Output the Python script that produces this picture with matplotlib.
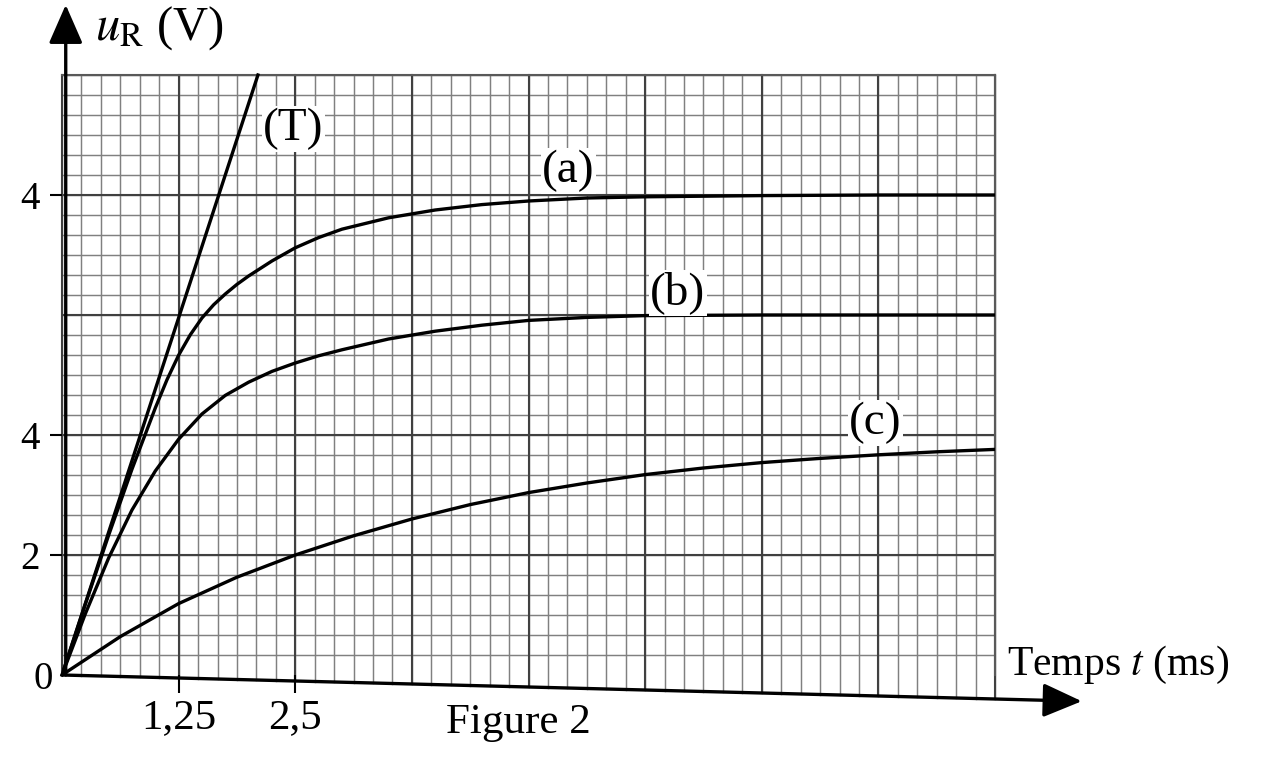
import numpy as np
import matplotlib
matplotlib.use("Agg")
import matplotlib.pyplot as plt

plt.rcParams['font.family'] = ['Liberation Serif', 'DejaVu Serif']
plt.rcParams['mathtext.fontset'] = 'stix'

# valeurs
t_a = [0, 0.25, 0.5, 0.75, 1.0, 1.125, 1.25, 1.375, 1.5, 1.625, 1.75, 1.875,
       2.0, 2.25, 2.5, 2.75, 3.0, 3.5, 4.0, 4.5, 5.0, 5.625, 6.25, 7.5, 8.75, 10]
u_a = [0, 1.18, 2.33, 3.43, 4.45, 4.92, 5.33, 5.67, 5.95, 6.17, 6.35, 6.51,
       6.65, 6.9, 7.12, 7.29, 7.43, 7.62, 7.75, 7.84, 7.9, 7.95, 7.97, 7.99, 8.0, 8.0]

t_b = [0, 0.25, 0.5, 0.75, 1.0, 1.25, 1.5, 1.75, 2.0, 2.25, 2.5, 2.75, 3.0,
       3.5, 4.0, 4.5, 5.0, 5.625, 6.25, 7.5, 8.75, 10]
u_b = [0, 1.02, 1.95, 2.75, 3.4, 3.93, 4.35, 4.66, 4.88, 5.06, 5.2, 5.32, 5.42,
       5.6, 5.73, 5.83, 5.91, 5.96, 5.99, 6.0, 6.0, 6.0]

t_c = [0, 0.625, 1.25, 1.875, 2.5, 3.125, 3.75, 4.375, 5.0, 5.625, 6.25,
       6.875, 7.5, 8.125, 8.75, 9.375, 10]
u_c = [0, 0.64, 1.19, 1.63, 2.0, 2.32, 2.6, 2.84, 3.04, 3.2, 3.34,
       3.45, 3.54, 3.61, 3.67, 3.72, 3.76]

# tangente (T)
t_T = [0, 2.1]
u_T = [0, 10]

x_ticks = [1.25, 2.5]
x_labels = ['1,25', '2,5']
y_ticks = [2, 4, 8]
y_labels = ['2', '4', '4']

# l'axe du temps est legerement incline sur le scan
pente = -0.04

fig = plt.figure(figsize=(12.72, 7.68), dpi=100)
ax = fig.add_axes([62 / 1272, 1 - 675 / 768, 933 / 1272, 600 / 768])
ax.set_xlim(0, 10)
ax.set_ylim(0, 10)

# papier millimetre
xs = np.arange(0, 10.01, 1.25 / 6)
for x in xs:
    ax.plot([x, x], [pente * x, 10], color='0.5', lw=1.05, zorder=1, clip_on=False)
for y in np.arange(1 / 3, 10.01, 1 / 3):
    ax.axhline(y, color='0.5', lw=1.05, zorder=1)
for x in np.arange(0, 10.01, 1.25):
    ax.plot([x, x], [pente * x, 10], color='0.25', lw=1.5, zorder=1, clip_on=False)
for y in np.arange(2, 10.01, 2):
    ax.axhline(y, color='0.25', lw=1.5, zorder=1)

# courbes
lw = 2.4
ax.plot(t_T, u_T, color='black', lw=lw, zorder=3, clip_on=False)
ax.plot(t_a, u_a, color='black', lw=lw, zorder=3)
ax.plot(t_b, u_b, color='black', lw=lw, zorder=3)
ax.plot(t_c, u_c, color='black', lw=lw, zorder=3)

box = dict(facecolor='white', edgecolor='none', pad=1)
ax.text(2.48, 9.1, '(T)', fontsize=34, ha='center', va='center', bbox=box, zorder=4)
ax.text(5.43, 8.4, '(a)', fontsize=34, ha='center', va='center', bbox=box, zorder=4)
ax.text(6.6, 6.37, '(b)', fontsize=34, ha='center', va='center', bbox=box, zorder=4)
ax.text(8.72, 4.2, '(c)', fontsize=34, ha='center', va='center', bbox=box, zorder=4)

# axes
for s in ['left', 'bottom']:
    ax.spines[s].set_visible(False)
for s in ['top', 'right']:
    ax.spines[s].set_color('0.35')
    ax.spines[s].set_linewidth(1.5)

arrow = dict(arrowstyle='-|>,head_length=0.8,head_width=0.35', lw=2.4,
             color='black', shrinkA=0, shrinkB=0, mutation_scale=30)
ax.annotate('', xy=(0.04, 11.17), xytext=(0.04, 0), xycoords='data',
            arrowprops=arrow, annotation_clip=False)
ax.annotate('', xy=(10.93, pente * 10.93), xytext=(0, 0), xycoords='data',
            arrowprops=arrow, annotation_clip=False)

ax.set_xticks(x_ticks)
ax.set_xticklabels(x_labels, fontsize=31)
ax.set_yticks(y_ticks)
ax.set_yticklabels(y_labels, fontsize=28)
ax.tick_params(axis='x', direction='out', length=13, width=1.5, pad=4)
ax.tick_params(axis='y', direction='out', length=9, width=1.5, pad=7)
ax.text(-0.2, -0.08, '0', fontsize=28, ha='center', va='center')

fig.text(95 / 1272, 1 - 40 / 768, r'$u_{\mathrm{R}}$ (V)', fontsize=35,
         ha='left', va='baseline')
fig.text(1007 / 1272, 1 - 675 / 768, r'Temps $t$ (ms)', fontsize=30,
         ha='left', va='baseline')
fig.text(518 / 1272, 1 - 733 / 768, 'Figure 2', fontsize=31,
         ha='center', va='baseline')

fig.savefig('out.png', dpi=100)
